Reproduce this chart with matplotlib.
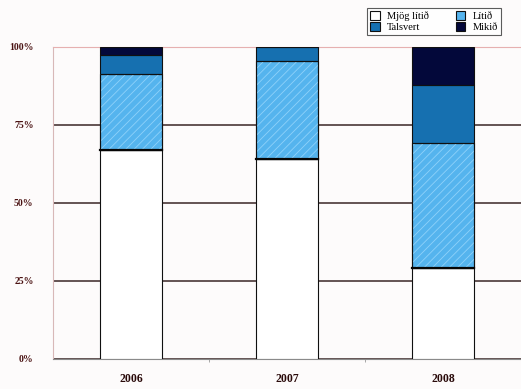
import numpy as np
import matplotlib.pyplot as plt

# Hlutfall svara eftir árum
years = ['2006', '2007', '2008']
mjog_litid = [67.0, 64.0, 29.2]
litid = [24.5, 31.5, 40.0]
talsvert = [5.9, 4.5, 18.6]
mikid = [2.6, 0.0, 12.2]
yticks = [0, 25, 50, 75, 100]

plt.rcParams['font.family'] = ['Liberation Serif', 'DejaVu Serif']
plt.rcParams['hatch.linewidth'] = 0.6

fig = plt.figure(figsize=(5.21, 3.89), dpi=100, facecolor='#fdfbfb')
ax = fig.add_axes([53 / 521, 1 - 359 / 389, 1 - 53 / 521, 312 / 389])
ax.set_facecolor('#fdfbfb')

x = np.arange(len(years))
w = 0.4
series = [
    (mjog_litid, 'white', None, 'Mjög lítið'),
    (litid, '#55b4ee', '////', 'Lítið'),
    (talsvert, '#1670b0', None, 'Talsvert'),
    (mikid, '#03083a', None, 'Mikið'),
]

bottom = np.zeros(len(years))
handles = []
for vals, col, hatch, name in series:
    vals = np.array(vals)
    h = ax.bar(x, vals, w, bottom=bottom, color=col, edgecolor='#101010',
               linewidth=0.8, zorder=3, label=name)
    if hatch:
        # ljósar skálínur ofan á fyllinguna, svo útlínur aftur ofan á
        ax.bar(x, vals, w, bottom=bottom, color='none', edgecolor='#8fd2fa',
               hatch=hatch, linewidth=0, zorder=3.1)
        ax.bar(x, vals, w, bottom=bottom, color='none', edgecolor='#101010',
               linewidth=0.8, zorder=3.2)
    handles.append(h)
    bottom += vals

# dekkri lína milli neðstu flokkanna
for xi, v in zip(x, mjog_litid):
    ax.plot([xi - w / 2, xi + w / 2], [v, v], color='#050505', lw=1.6, zorder=4)

ax.set_xlim(-0.5, 2.5)
ax.set_ylim(0, 100)
ax.set_yticks(yticks)
ax.set_yticklabels([f'{t}%' for t in yticks])
ax.set_xticks(x)
ax.set_xticklabels(years)
ax.set_xticks([0.5, 1.5], minor=True)
ax.tick_params(axis='y', length=0, pad=14, labelsize=7, labelcolor='#4a1212')
ax.tick_params(axis='x', which='major', length=0, pad=10, labelsize=8.5, labelcolor='#2a0a0a')
ax.tick_params(axis='x', which='minor', length=2, color='#999999')
for lbl in ax.get_yticklabels() + ax.get_xticklabels():
    lbl.set_fontweight('bold')

ax.yaxis.grid(True, color='#3a2626', linewidth=1.1, zorder=0)
ax.set_axisbelow(True)
ax.spines['left'].set_color('#d8b8b8')
ax.spines['top'].set_color('#e6b0b0')
ax.spines['bottom'].set_color('#8a8a8a')
ax.spines['right'].set_visible(False)
for s in ax.spines.values():
    s.set_linewidth(0.8)

# röðun svo að Mjög lítið / Lítið séu í efri röð
order = [0, 2, 1, 3]
leg = fig.legend([handles[i] for i in order], [series[i][3] for i in order],
                 ncol=2, loc='upper right', bbox_to_anchor=(506 / 521, 1 - 3 / 389),
                 fontsize=7.5, frameon=True, fancybox=False, edgecolor='#333333',
                 handlelength=0.9, handleheight=0.9, columnspacing=2.6,
                 handletextpad=0.7, borderpad=0.3, labelspacing=0.1)
leg.get_frame().set_linewidth(0.8)

fig.savefig('out.png', dpi=100, facecolor=fig.get_facecolor())
